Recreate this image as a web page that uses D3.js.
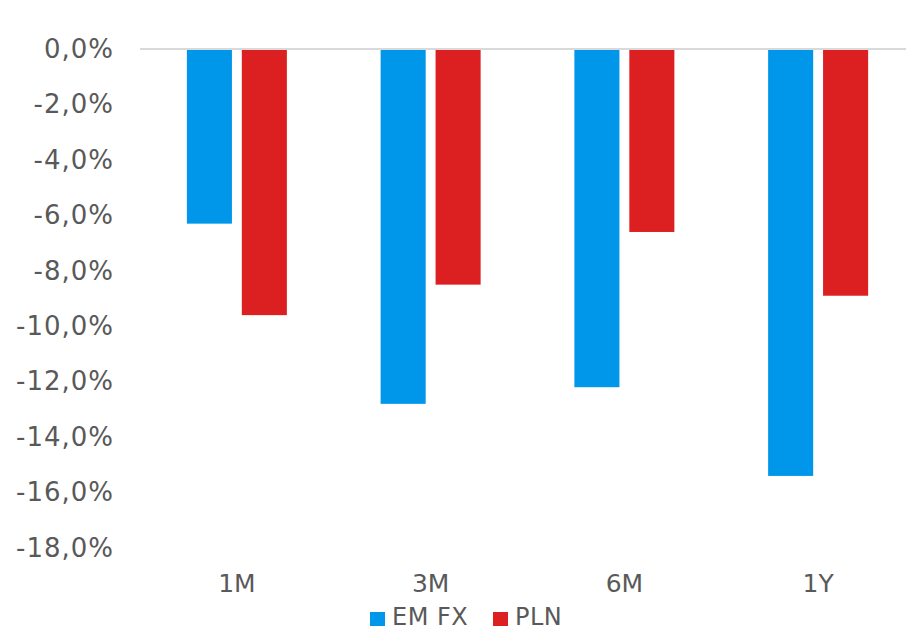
<!DOCTYPE html>
<html>
<head>
<meta charset="utf-8">
<script src="https://cdn.jsdelivr.net/npm/d3@7"></script>
<style>
  html, body { margin: 0; padding: 0; background: #fff; }
  svg { display: block; }
  text { font-family: "DejaVu Sans", Verdana, sans-serif; fill: #595959; }
</style>
</head>
<body>
<svg id="chart" width="906" height="631"></svg>
<script>
// Currency performance by horizon
const categories = ["1M", "3M", "6M", "1Y"];
const emFx = [-6.3, -12.8, -12.2, -15.4];
const pln = [-9.6, -8.5, -6.6, -8.9];
const seriesNames = ["EM FX", "PLN"];
const seriesColors = ["#0096ea", "#dc1f20"];
const yTicks = [0, -2, -4, -6, -8, -10, -12, -14, -16, -18];

const svg = d3.select("#chart");
const plot = { left: 140, right: 915, top: 49, bottom: 548 };

const y = d3.scaleLinear().domain([0, -18]).range([plot.top, plot.bottom]);
const x0 = d3.scaleBand().domain(categories).range([plot.left, plot.right]).paddingInner(0).paddingOuter(0);
const x1 = d3.scaleBand().domain(seriesNames).range([0, 100]).paddingInner(0.18).paddingOuter(0);

const fmt = v => v.toFixed(1).replace(".", ",") + "%";

// y-axis labels
const yAxis = d3.axisLeft(y).tickValues(yTicks).tickFormat(fmt).tickSize(0).tickPadding(0);
const yG = svg.append("g").attr("transform", `translate(114,0)`).call(yAxis);
yG.select(".domain").remove();
yG.selectAll("text").attr("font-size", 26).attr("fill", "#595959")
  .attr("letter-spacing", 1)
  .attr("font-family", "'DejaVu Sans', Verdana, sans-serif");

// bars
const rows = categories.map((c, i) => ({ cat: c, vals: [emFx[i], pln[i]] }));
const groups = svg.append("g").selectAll("g").data(rows).join("g")
  .attr("transform", d => `translate(${x0(d.cat) + (x0.bandwidth() - 100) / 2},0)`);
groups.selectAll("rect")
  .data(d => d.vals.map((v, j) => ({ name: seriesNames[j], v, color: seriesColors[j] })))
  .join("rect")
  .attr("x", d => x1(d.name))
  .attr("width", x1.bandwidth())
  .attr("y", d => y(Math.max(0, d.v)))
  .attr("height", d => Math.abs(y(d.v) - y(0)))
  .attr("fill", d => d.color);

// zero line
svg.append("line")
  .attr("x1", plot.left).attr("x2", plot.right)
  .attr("y1", y(0)).attr("y2", y(0))
  .attr("stroke", "#d9d9d9").attr("stroke-width", 2);

// category labels
const xAxis = d3.axisBottom(x0).tickSize(0).tickPadding(0);
const xG = svg.append("g").attr("transform", `translate(0,592)`).call(xAxis);
xG.select(".domain").remove();
xG.selectAll("text").attr("font-size", 25).attr("fill", "#595959").attr("dy", 0)
  .attr("font-family", "'DejaVu Sans', Verdana, sans-serif");

// legend
const legend = svg.append("g").attr("transform", "translate(370,625)");
const legendX = [0, 123];
seriesNames.forEach((n, i) => {
  const g = legend.append("g").attr("transform", `translate(${legendX[i]},0)`);
  g.append("rect").attr("x", 0).attr("y", -13).attr("width", 15).attr("height", 14).attr("fill", seriesColors[i]);
  g.append("text").attr("x", 22).attr("y", 0).attr("font-size", 24).attr("letter-spacing", 0.5).text(n);
});
</script>
</body>
</html>
